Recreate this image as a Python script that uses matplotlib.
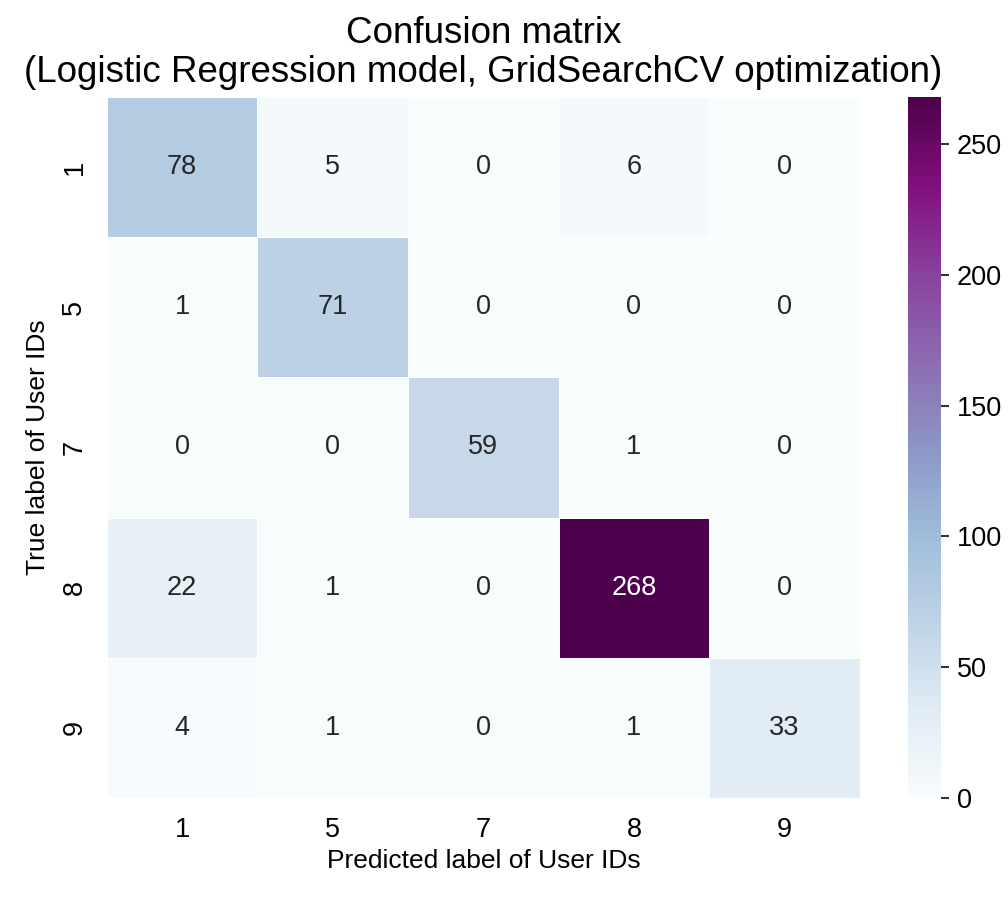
import numpy as np
import matplotlib
matplotlib.use('Agg')
import matplotlib.pyplot as plt
import seaborn as sns

# 类别与混淆矩阵数值
labels = ['1', '5', '7', '8', '9']
cm = np.array([[78, 5, 0, 6, 0],
               [1, 71, 0, 0, 0],
               [0, 0, 59, 1, 0],
               [22, 1, 0, 268, 0],
               [4, 1, 0, 1, 33]])

plt.rcParams['font.family'] = ['Liberation Sans', 'DejaVu Sans']

fig = plt.figure(figsize=(10.08, 8.98), dpi=100)
ax = fig.add_axes([0.106, 0.1114, 0.747, 0.7806])
cax = fig.add_axes([0.901, 0.1114, 0.033, 0.7806])

sns.heatmap(cm, annot=True, fmt='d', cmap='BuPu', linewidths=0.5, linecolor='white',
            xticklabels=labels, yticklabels=labels, ax=ax, cbar_ax=cax,
            annot_kws={'fontsize': 19.5})

ax.tick_params(length=0, labelsize=19.5, pad=14)
ax.set_yticklabels(labels, rotation=90, va='center')
ax.set_xlabel('Predicted label of User IDs', fontsize=19, labelpad=4)
ax.set_ylabel('True label of User IDs', fontsize=19, labelpad=8)
ax.set_title('Confusion matrix\n(Logistic Regression model, GridSearchCV optimization)',
             fontsize=26.5, pad=11, linespacing=1.15)

cax.tick_params(labelsize=19.5, length=6, width=1.5, color='#333333', pad=5)
cax.yaxis.set_ticks([0, 50, 100, 150, 200, 250])
for s in cax.spines.values():
    s.set_visible(False)

fig.savefig('out.png', dpi=100)
